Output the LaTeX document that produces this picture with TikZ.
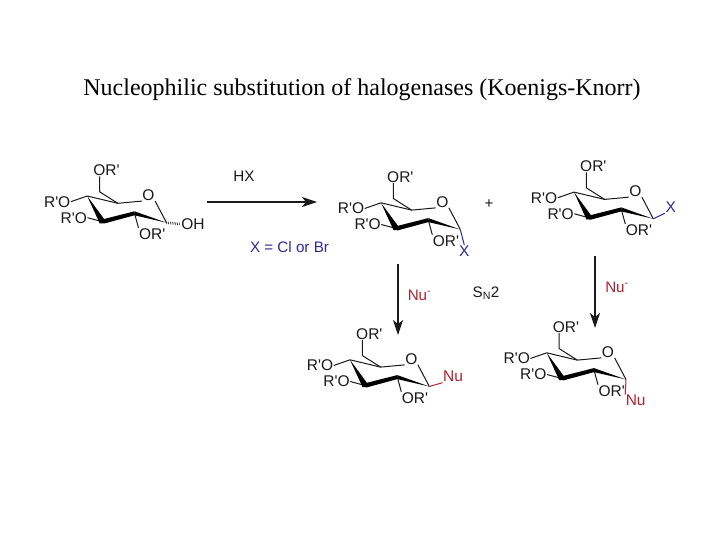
\documentclass[tikz,border=0pt]{standalone}
\usepackage{fontspec}
\setmainfont{Liberation Serif}
\newfontfamily\chemfont{Liberation Sans}
\usetikzlibrary{arrows.meta}
\definecolor{xblue}{HTML}{2B2B9C}
\definecolor{nured}{HTML}{B3202F}
\definecolor{ink}{HTML}{1A1A1A}
\tikzset{
  atom/.style={font=\chemfont\fontsize{15.5}{16}\selectfont,inner sep=0.4pt,text=ink},
  bond/.style={line width=1pt,draw=ink},
  heavy/.style={fill=black,draw=none},
  lab/.style={font=\chemfont\fontsize{15.2}{16}\selectfont,inner sep=0.5pt},
  rxn/.style={line width=1.2pt,draw=ink,-{Stealth[length=15pt,width=10pt,inset=4pt]}},
  pics/sugar/.style={code={
    \coordinate (C1) at (0,0);
    \coordinate (C2) at (-32,-9.4);
    \coordinate (C3) at (-64.3,-1);
    \coordinate (C4) at (-79.3,-26.7);
    \coordinate (C5) at (-48.7,-19.4);
    \coordinate (C6) at (-67,-31);
    \coordinate (C6t) at (-67,-46.4);
    \node[atom] (O) at (-18,-27.7) {O};
    \node[atom] (ORa) at (-60,-52.7) {OR'};
    \node[atom] (ROa) at (-109.3,-21) {R'O};
    \node[atom] (ROb) at (-92.7,-5) {R'O};
    \node[atom] (ORb) at (-14.3,11.3) {OR'};
    \draw[bond] (C1) -- (O.south east);
    \draw[bond] (O.south west) -- (C5) -- (C4);
    \draw[bond] (C5) -- (C6) -- (C6t);
    \draw[bond] (C4) -- (ROa.east);
    \draw[bond] (C3) -- (ROb.east);
    \draw[bond] (C2) -- (ORb.north west);
    \fill[heavy] (C4) -- (-61.6,-2.6) -- (-66.8,0.6) -- cycle;
    \fill[heavy] (-66.8,0.6) -- (-62.8,-3.6) -- (-32,-11.4) -- (-32,-7.4) -- (-62.2,0.8) -- cycle;
    \fill[heavy] (-32,-11.4) -- (-32,-7.4) -- (C1) -- cycle;
  }}
}
\begin{document}
\begin{tikzpicture}[x=1pt,y=-1pt]
\useasboundingbox (0,0) rectangle (720,540);
\fill[white] (0,0) rectangle (720,540);
\node[font=\fontsize{24}{26}\selectfont,text=black] (title) at (362,90) {Nucleophilic substitution of halogenases (Koenigs-Knorr)};

% sugar 1
\pic (a) at (166.5,222.7) {sugar};
\node[atom] (aOH) at (193,224) {OH};
\draw[line width=2.6pt,draw=ink,dash pattern=on 0.6pt off 1.2pt] (aC1) -- (aOH.west);

% sugar 2
\pic (b) at (460.3,229.5) {sugar};
\node[atom,text=xblue] (bX) at (464.3,251) {X};
\draw[bond,draw=xblue] (bC1) -- (bX.north);

% sugar 3
\pic (c) at (653.3,218.8) {sugar};
\node[atom,text=xblue] (cX) at (670.7,207.3) {X};
\draw[bond,draw=xblue] (cC1) -- (cX.south west);

% sugar 4
\pic (d) at (429.3,386.5) {sugar};
\node[atom,text=nured] (dNu) at (453,376.7) {Nu};
\draw[bond,draw=nured] (dC1) -- (dNu.south west);

% sugar 5
\pic (e) at (626,379.5) {sugar};
\node[atom,text=nured] (eNu) at (635.7,400.7) {Nu};
\draw[bond,draw=nured] (eC1) -- (eNu.north west);

% reaction arrows
\coordinate (r1s) at (207,202);
\coordinate (r1e) at (317,202);
\coordinate (r2s) at (398,264);
\coordinate (r2e) at (398,335);
\coordinate (r3s) at (595,256);
\coordinate (r3e) at (595,328);
\draw[rxn] (r1s) -- (r1e);
\draw[rxn] (r2s) -- (r2e);
\draw[rxn] (r3s) -- (r3e);

\node[lab,text=ink] (hx) at (244,176.5) {HX};
\node[lab,text=xblue] (xdef) at (289.5,247.5) {X = Cl or Br};
\node[lab,text=ink] (plus) at (489,204) {+};
\node[lab,text=nured] (nu1) at (419.5,295) {Nu\textsuperscript{-}};
\node[lab,text=nured] (nu2) at (617,287) {Nu\textsuperscript{-}};
\node[lab,text=ink] (sn2) at (486,293) {S\textsubscript{N}2};
\end{tikzpicture}
\end{document}
